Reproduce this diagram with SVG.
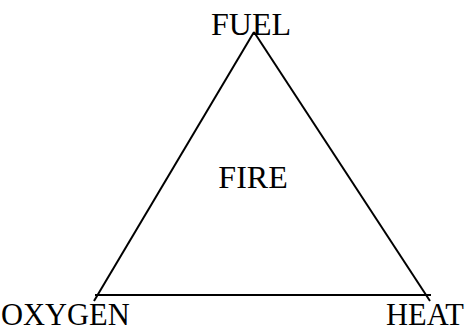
<svg xmlns="http://www.w3.org/2000/svg" width="474" height="333" viewBox="0 0 474 333">
<style>
text{font-family:"Liberation Serif","Times New Roman",serif;font-size:32px;fill:#000}
.sm{font-size:30.5px}
.ln{stroke:#000;stroke-width:2;fill:none}
</style>
<rect width="474" height="333" fill="#fff"/>
<g id="connectors">
<line class="ln" x1="254" y1="32" x2="94" y2="301"/>
<line class="ln" x1="254" y1="32" x2="430" y2="301"/>
<line class="ln" x1="95" y1="295" x2="431" y2="295"/>
</g>
<g id="fuel"><text x="211" y="35">FUEL</text></g>
<g id="fire"><text x="253" y="188" text-anchor="middle">FIRE</text></g>
<g id="oxygen"><text class="sm" x="1" y="325">OXYGEN</text></g>
<g id="heat"><text class="sm" x="386" y="325">HEAT</text></g>
</svg>
